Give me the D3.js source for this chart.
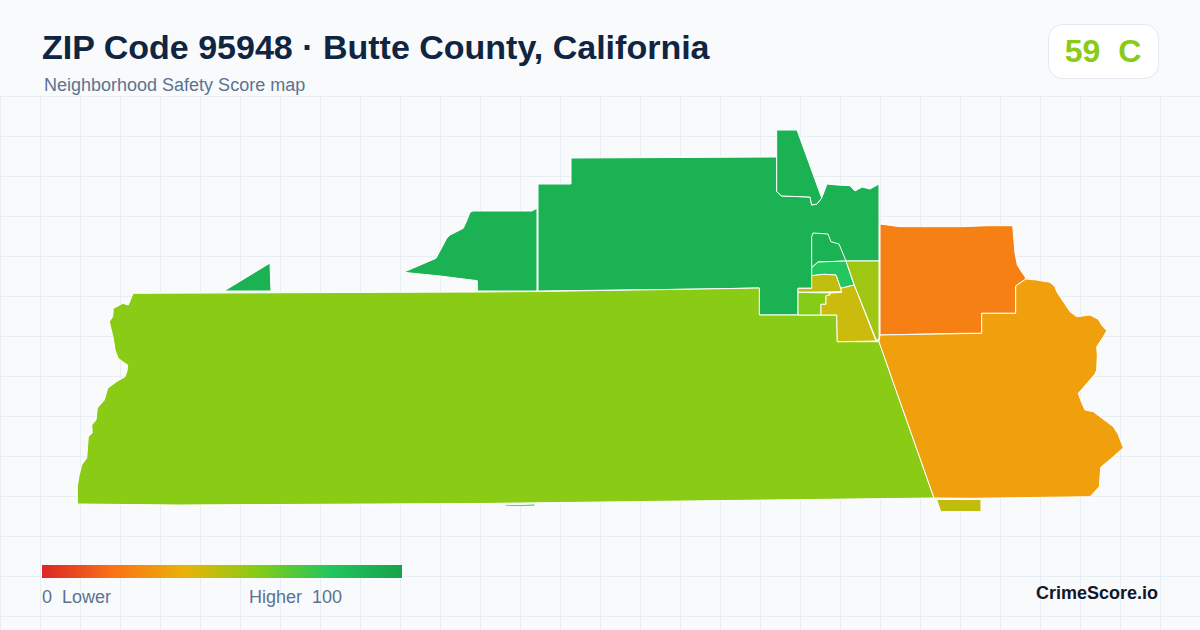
<!DOCTYPE html>
<html>
<head>
<meta charset="utf-8">
<script src="https://cdn.jsdelivr.net/npm/d3@7"></script>
<style>
html, body { margin: 0; padding: 0; background: #f8fafc; }
svg { display: block; font-family: "Liberation Sans", Arial, sans-serif; }
</style>
</head>
<body>
<svg width="1200" height="630"></svg>
<script>
// colour ramp of the legend
const rampStops = [0, 20, 40, 60, 80, 100];
const rampColors = ["#dc2626", "#f97316", "#eab308", "#84cc16", "#22c55e", "#16a34a"];

// neighborhood outlines, in map units
const northTab = [[776.7,130],[797,130],[821.7,198],[817,204],[811.7,205],[810,197],[781.7,196],[776.7,191.7],[776.7,157]];
const northMain = [[538,184],[571,184],[571,158],[776.7,157],[776.7,191.7],[781.7,196],[810,197],[811.7,205],[817,204],[821.7,198],[827,184],[836.7,185],[850,185.7],[855,191],[862,187],[870,189],[879,184],[879,261],[846,261],[854,285],[840.7,288],[798,288.3],[798,315],[759.3,315],[759.3,288],[703,289],[538,291]];
const westArm = [[403.3,272.3],[436,258.3],[441,249],[446.7,238.3],[450,235],[463.3,228.3],[467,220],[470,212.3],[473,211],[531.7,211],[537,208.3],[537,291],[477.3,291],[477.3,280.7],[440,276]];
const smallWedge = [[224,291],[270,263],[271,291]];
const southSliver = [[505,505],[535,504],[535,506],[505,506.5]];
const pocket = [[811.7,236.7],[813,233],[828,234],[831,241.7],[839,244],[846,261],[818,262],[811.7,267.7]];
const brightCell = [[811.7,267.7],[818,262],[846,261],[854,285],[840.7,288.3],[836,275],[824,274.3],[811.7,275.7]];
const oliveCell = [[811.7,275.7],[824,274.3],[836,275],[841.7,291.7],[798,292.3],[798,288.3],[811.7,288.3]];
const limeCell = [[798,292.3],[830,293],[830,295],[826,295.7],[826,304.3],[821,304.3],[821,315],[798,315]];
const oliveSouth = [[840.7,288.3],[854.3,285],[876,341],[837.3,341.7],[836.7,315],[821,315],[821,304.3],[826,304.3],[826,295.7],[830,295],[830,293],[841.7,292.5]];
const eastSliver = [[846,261],[879,261],[879,338],[876.7,341],[854.3,285]];
const bigWest = [[133.3,293.3],[131.7,296.7],[128.3,305],[122.7,303.3],[116.7,306.7],[113.3,308.3],[112.7,316.7],[109.3,321.7],[113.3,338.3],[115,350],[118.3,358.3],[123,362],[127.7,365],[127,371],[125,376.7],[116,382],[107.7,388.3],[104.3,400],[97.3,408],[96,420],[91.7,425],[92.3,433],[88.3,436.7],[86.7,458],[81.7,465],[79,476],[77.3,486.7],[77.3,504],[178,505],[480,503.5],[934,498],[879,341.7],[837.3,341.7],[836.7,315],[759.3,315],[759.3,288],[703,289],[538,291.5],[477,292]];
const orangeBlock = [[880,224],[900,226.7],[960,226.7],[988,225.7],[1012.7,225.7],[1015,253],[1017.3,265],[1021,271],[1025,276.7],[1025.7,279],[1015.7,286],[1015.7,313.3],[981.7,313.3],[981.7,333.3],[960,333.3],[880,335]];
const amberBlock = [[880,335],[981.7,333.3],[981.7,313.3],[1015.7,313.3],[1015.7,286],[1025.7,279],[1036.7,280],[1050,282.3],[1055,286.7],[1056.7,291.7],[1070,311.7],[1076.7,316.7],[1090,315],[1098.3,319.3],[1101.7,325],[1106.7,330.7],[1103.3,336.7],[1096.7,346.7],[1097.3,355],[1096.7,370],[1095,374],[1078.3,393.3],[1081,401],[1085,410],[1093.3,411.7],[1113.3,426.7],[1118,434],[1123.3,447.7],[1113.3,456.7],[1100.7,467.3],[1099.3,486.7],[1090,496.7],[973,498.3],[934,498],[879,341.7]];
const southBlock = [[936.7,499.5],[981,499.5],[981,511.7],[940.7,511.7]];

// outlines in drawing order and the score of each one
const outlines = [northMain, northTab, westArm, smallWedge, southSliver, bigWest, pocket, brightCell, oliveCell, limeCell, oliveSouth, eastSliver, orangeBlock, amberBlock, southBlock];
const scores = [91, 91, 91, 91, 91, 59, 91, 80, 48, 60, 46, 55, 24, 34, 48];

const title = "ZIP Code 95948 · Butte County, California";
const subtitle = "Neighborhood Safety Score map";
const scoreLabel = "59  C";
const legendLabels = ["0  Lower", "Higher  100"];
const brand = "CrimeScore.io";

const width = 1200, height = 630;
const svg = d3.select("svg");

const color = d3.scaleLinear().domain(rampStops).range(rampColors);
const path = d3.geoPath(d3.geoIdentity());

// background grid, starts below the header
const grid = svg.append("g").attr("stroke", "#e8eff4").attr("stroke-width", 1);
grid.selectAll(".gx")
    .data(d3.range(0.5, width, 40))
    .enter()
    .append("line")
    .attr("x1", d => d).attr("x2", d => d)
    .attr("y1", 96).attr("y2", height);
grid.selectAll(".gy")
    .data(d3.range(96.5, height, 40))
    .enter()
    .append("line")
    .attr("x1", 0).attr("x2", width)
    .attr("y1", d => d).attr("y2", d => d);

// map
const features = outlines.map((ring, i) => ({
    type: "Feature",
    properties: { score: scores[i] },
    geometry: { type: "Polygon", coordinates: [ring.concat([ring[0]])] }
}));

svg.append("g")
    .selectAll("path")
    .data(features)
    .enter()
    .append("path")
    .attr("d", path)
    .attr("fill", d => color(d.properties.score))
    .attr("stroke", "#ffffff")
    .attr("stroke-width", 1)
    .attr("stroke-linejoin", "round");

// header
svg.append("text")
    .attr("x", 42).attr("y", 59)
    .attr("font-size", 34).attr("font-weight", 700)
    .attr("fill", "#0f2542")
    .text(title);
svg.append("text")
    .attr("x", 44).attr("y", 91)
    .attr("font-size", 18)
    .attr("fill", "#5b7391")
    .text(subtitle);

// score badge
svg.append("rect")
    .attr("x", 1048.5).attr("y", 24.5)
    .attr("width", 110).attr("height", 54)
    .attr("rx", 14)
    .attr("fill", "#ffffff")
    .attr("stroke", "#e2e8f0");
svg.append("text")
    .attr("x", 1103).attr("y", 62)
    .attr("text-anchor", "middle")
    .style("white-space", "pre")
    .attr("font-size", 32).attr("font-weight", 700)
    .attr("fill", color(59))
    .text(scoreLabel);

// legend
const legendScale = d3.scaleLinear().domain([0, 100]).range([42, 402]);
const gradient = svg.append("defs").append("linearGradient")
    .attr("id", "ramp");
gradient.selectAll("stop")
    .data(rampStops)
    .enter()
    .append("stop")
    .attr("offset", d => d + "%")
    .attr("stop-color", (d, i) => rampColors[i]);
svg.append("rect")
    .attr("x", legendScale(0)).attr("y", 565)
    .attr("width", legendScale(100) - legendScale(0)).attr("height", 13)
    .attr("fill", "url(#ramp)");
svg.selectAll(".legend-label")
    .data(legendLabels)
    .enter()
    .append("text")
    .attr("class", "legend-label")
    .attr("x", (d, i) => i === 0 ? 42 : 249)
    .attr("y", 603)
    .attr("font-size", 18)
    .attr("fill", "#5b7391")
    .style("white-space", "pre")
    .text(d => d);

svg.append("text")
    .attr("x", 1158).attr("y", 599)
    .attr("text-anchor", "end")
    .attr("font-size", 18).attr("font-weight", 700)
    .attr("fill", "#0f172a")
    .text(brand);
</script>
</body>
</html>
